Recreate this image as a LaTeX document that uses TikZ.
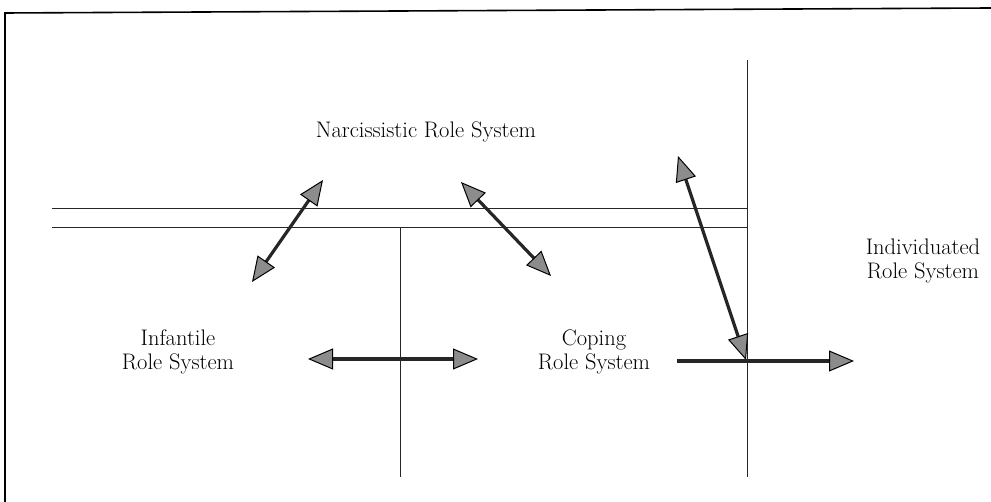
\documentclass[tikz,border=0pt]{standalone}
\usetikzlibrary{arrows.meta}
\begin{document}
\begin{tikzpicture}[x=1pt,y=-1pt,
  lbl/.style={font=\fontsize{22.5}{24.5}\selectfont, align=center, inner sep=0pt},
  thinline/.style={line width=1pt, black!85},
  darr/.style={line width=3.2pt, black!85, {Triangle[length=25pt,width=21pt,fill=gray!90,color=black,line width=1pt]}-{Triangle[length=25pt,width=21pt,fill=gray!90,color=black,line width=1pt]}},
  sarr/.style={line width=3.2pt, black!85, -{Triangle[length=25pt,width=21pt,fill=gray!90,color=black,line width=1pt]}}]
\useasboundingbox (0,0) rectangle (991,502);
% frame (left and top)
\coordinate (fbl) at (5,502);
\coordinate (ftl) at (5,13);
\coordinate (ftr) at (991,8);
\draw[line width=1.6pt] (fbl) -- (ftl) -- (ftr);
% double horizontal line
\coordinate (h1l) at (52,209); \coordinate (h1r) at (747,209);
\coordinate (h2l) at (52,228); \coordinate (h2r) at (747,228);
\draw[thinline] (h1l) -- (h1r);
\draw[thinline] (h2l) -- (h2r);
% verticals
\coordinate (v1t) at (747,60); \coordinate (v1b) at (747,477);
\coordinate (v2t) at (400,228); \coordinate (v2b) at (400,477);
\draw[thinline] (v1t) -- (v1b);
\draw[thinline] (v2t) -- (v2b);
% labels
\node[lbl] (narc) at (426,132) {Narcissistic Role System};
\node[lbl] (inf) at (178,352) {Infantile\\Role System};
\node[lbl] (cop) at (594,352) {Coping\\Role System};
\node[lbl] (ind) at (923,261) {Individuated\\Role System};
% arrows
\coordinate (a1s) at (252,282); \coordinate (a1e) at (323,180);
\draw[darr] (a1s) -- (a1e);
\coordinate (a2s) at (461,182); \coordinate (a2e) at (551,276);
\draw[darr] (a2s) -- (a2e);
\coordinate (a3s) at (678,156); \coordinate (a3e) at (746,360);
\draw[darr] (a3s) -- (a3e);
\coordinate (a4s) at (308,359); \coordinate (a4e) at (478,359);
\draw[darr] (a4s) -- (a4e);
\coordinate (a5s) at (677,361); \coordinate (a5e) at (854,361);
\draw[sarr] (a5s) -- (a5e);
\end{tikzpicture}
\end{document}
